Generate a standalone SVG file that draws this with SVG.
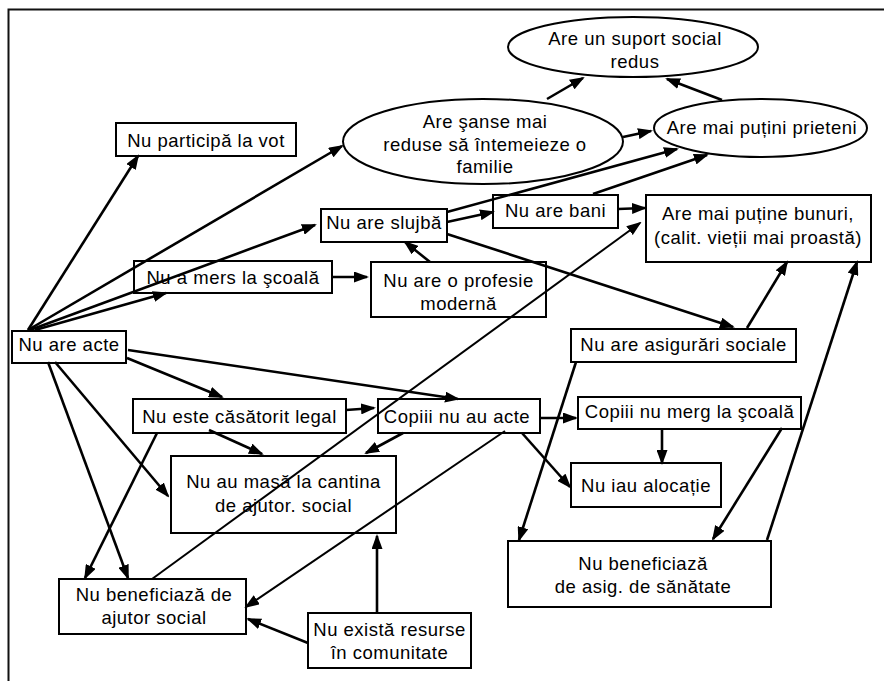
<svg xmlns="http://www.w3.org/2000/svg" width="884" height="681" viewBox="0 0 884 681">
<defs>
<marker id="ah" markerUnits="userSpaceOnUse" markerWidth="15" markerHeight="11" refX="13" refY="5.5" orient="auto">
<path d="M0,0 L15,5.5 L0,11 z" fill="#000"/>
</marker>
<style>
.box{fill:#fff;stroke:#000;stroke-width:2}
.t{font-family:"Liberation Sans",Arial,sans-serif;font-size:18.5px;letter-spacing:0.5px;fill:#000;text-anchor:middle}
.c line{stroke:#000;stroke-width:2.6;marker-end:url(#ah)}
.c line.thin{stroke-width:2}
</style>
</defs>
<rect width="884" height="681" fill="#fff"/>
<path d="M8.5,681 V9.5 H884" fill="none" stroke="#111" stroke-width="2"/>

<g id="n-vot"><rect class="box" x="116" y="123" width="180" height="33"/><text class="t" x="206" y="146.5">Nu participă la vot</text></g>
<g id="n-familie"><ellipse class="box" cx="483" cy="141.5" rx="140" ry="42.5"/><text class="t" x="485"><tspan x="485" y="128">Are şanse mai</tspan><tspan x="485" y="150.5">reduse să întemeieze o</tspan><tspan x="485" y="173">familie</tspan></text></g>
<g id="n-suport"><ellipse class="box" cx="633" cy="47" rx="125" ry="30"/><text class="t"><tspan x="635" y="45">Are un suport social</tspan><tspan x="635" y="68">redus</tspan></text></g>
<g id="n-prieteni"><ellipse class="box" cx="760.5" cy="128" rx="106.5" ry="29"/><text class="t" x="762" y="133.5">Are mai puțini prieteni</text></g>
<g id="n-slujba"><rect class="box" x="321" y="209" width="126" height="33"/><text class="t" x="384" y="229">Nu are slujbă</text></g>
<g id="n-bani"><rect class="box" x="493" y="195" width="125" height="33"/><text class="t" x="555.5" y="216.5">Nu are bani</text></g>
<g id="n-bunuri"><rect class="box" x="646" y="195" width="225" height="67"/><text class="t"><tspan x="758" y="220">Are mai puține bunuri,</tspan><tspan x="758" y="244">(calit. vieții mai proastă)</tspan></text></g>
<g id="n-scoala"><rect class="box" x="134" y="261" width="198" height="32"/><text class="t" x="233" y="283.5">Nu a mers la şcoală</text></g>
<g id="n-profesie"><rect class="box" x="371" y="262" width="175" height="55"/><text class="t"><tspan x="458.5" y="287">Nu are o profesie</tspan><tspan x="458.5" y="310">modernă</tspan></text></g>
<g id="n-acte"><rect class="box" x="12" y="331" width="114" height="32"/><text class="t" x="69" y="351">Nu are acte</text></g>
<g id="n-asigurari"><rect class="box" x="571" y="329" width="225" height="33"/><text class="t" x="683.5" y="351">Nu are asigurări sociale</text></g>
<g id="n-casatorit"><rect class="box" x="133" y="399" width="213" height="34"/><text class="t" x="239.5" y="422.5">Nu este căsătorit legal</text></g>
<g id="n-copii-acte"><rect class="box" x="378" y="399" width="162" height="34"/><text class="t" x="457" y="422.5">Copiii nu au acte</text></g>
<g id="n-copii-scoala"><rect class="box" x="578" y="397" width="223" height="32"/><text class="t" x="689.5" y="418">Copiii nu merg la şcoală</text></g>
<g id="n-alocatie"><rect class="box" x="571" y="463" width="150" height="44"/><text class="t" x="646" y="492">Nu iau alocație</text></g>
<g id="n-cantina"><rect class="box" x="171" y="456" width="225" height="77"/><text class="t"><tspan x="283.5" y="488">Nu au masă la cantina</tspan><tspan x="283.5" y="511.5">de ajutor. social</tspan></text></g>
<g id="n-sanatate"><rect class="box" x="508" y="541" width="263" height="66"/><text class="t"><tspan x="643" y="570">Nu beneficiază</tspan><tspan x="643" y="593">de asig. de sănătate</tspan></text></g>
<g id="n-ajutor"><rect class="box" x="59" y="579" width="187" height="55"/><text class="t"><tspan x="154" y="600.5">Nu beneficiază de</tspan><tspan x="154" y="623.5">ajutor social</tspan></text></g>
<g id="n-resurse"><rect class="box" x="308" y="613" width="163" height="55"/><text class="t"><tspan x="389.5" y="636">Nu există resurse</tspan><tspan x="389.5" y="659">în comunitate</tspan></text></g>

<g class="c" id="connectors">
<line x1="28" y1="330" x2="138" y2="156"/>
<line x1="28" y1="330" x2="342" y2="146"/>
<line x1="30" y1="330" x2="315" y2="225"/>
<line x1="35" y1="330" x2="166" y2="293"/>
<line x1="332" y1="277" x2="367" y2="277"/>
<line x1="430" y1="262" x2="405" y2="242"/>
<line x1="447" y1="222" x2="493" y2="212"/>
<line x1="447" y1="212" x2="677" y2="149"/>
<line x1="593" y1="194" x2="707" y2="155"/>
<line x1="618" y1="209" x2="645" y2="208"/>
<line x1="623" y1="137" x2="651" y2="131"/>
<line x1="547" y1="99" x2="583" y2="78"/>
<line x1="722" y1="100" x2="667" y2="79"/>
<line x1="447" y1="234" x2="733" y2="327"/>
<line x1="747" y1="328" x2="787" y2="262"/>
<line x1="767" y1="540" x2="857" y2="262"/>
<line class="thin" x1="152" y1="579" x2="640" y2="223"/>
<line x1="576" y1="362" x2="519" y2="540"/>
<line x1="782" y1="428" x2="713" y2="539"/>
<line x1="662" y1="429" x2="662" y2="463"/>
<line x1="540" y1="418" x2="576" y2="418"/>
<line x1="522" y1="433" x2="570" y2="487"/>
<line class="thin" x1="505" y1="431" x2="246" y2="607"/>
<line x1="403" y1="433" x2="366" y2="453"/>
<line x1="346" y1="410" x2="374" y2="408"/>
<line x1="209" y1="430" x2="262" y2="454"/>
<line x1="157" y1="433" x2="85" y2="578"/>
<line x1="48" y1="362" x2="128" y2="578"/>
<line x1="55" y1="362" x2="168" y2="496"/>
<line x1="127" y1="358" x2="222" y2="397"/>
<line x1="128" y1="350" x2="458" y2="399"/>
<line x1="377" y1="613" x2="377" y2="536"/>
<line x1="308" y1="643" x2="248" y2="619"/>
</g>
</svg>
